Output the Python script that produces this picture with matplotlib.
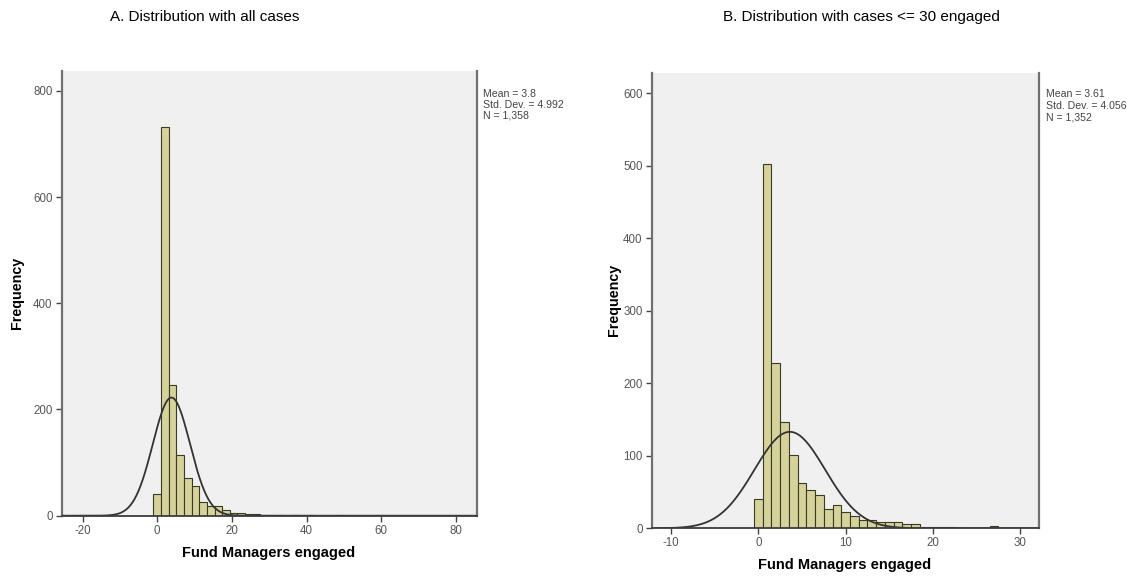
import numpy as np
import matplotlib
matplotlib.use("Agg")
import matplotlib.pyplot as plt

plt.rcParams['font.family'] = ['Liberation Sans', 'DejaVu Sans']
plt.rcParams['axes.unicode_minus'] = False

# ---- Panel A: all cases ----
a_title = "A. Distribution with all cases"
a_bin_start = -1.05
a_bin_width = 2.05
a_counts = [40, 732, 247, 115, 71, 55, 25, 19, 18, 11,
            6, 5, 3, 3, 2, 1, 1, 0, 1, 0,
            1, 0, 0, 0, 1, 0, 0, 0, 0, 1,
            0, 0, 0, 0, 0, 0, 0, 0, 0, 0, 0, 0]
a_mean, a_sd, a_n = 3.8, 4.992, 1358
a_xticks = [-20, 0, 20, 40, 60, 80]
a_yticks = [0, 200, 400, 600, 800]
a_stats = "Mean = 3.8\nStd. Dev. = 4.992\nN = 1,358"

# ---- Panel B: cases <= 30 engaged ----
b_title = "B. Distribution with cases <= 30 engaged"
b_bin_start = -0.5
b_bin_width = 1.0
b_counts = [41, 502, 228, 146, 101, 63, 53, 46, 26, 32,
            23, 17, 12, 11, 9, 8, 8, 6, 6, 2,
            2, 2, 2, 1, 1, 0, 0, 3, 0, 1]
b_mean, b_sd, b_n = 3.61, 4.056, 1352
b_xticks = [-10, 0, 10, 20, 30]
b_yticks = [0, 100, 200, 300, 400, 500, 600]
b_stats = "Mean = 3.61\nStd. Dev. = 4.056\nN = 1,352"

x_label = "Fund Managers engaged"
y_label = "Frequency"

BAR_FACE = "#d5d29b"
BAR_EDGE = "#3b3b22"
PANEL_BG = "#f0f0f0"
CURVE = "#333333"
TICK_COL = "#555555"

W, H = 1133, 577
fig = plt.figure(figsize=(W / 100, H / 100), dpi=100)


def px_axes(x0, x1, ytop, ybot):
    return fig.add_axes([x0 / W, 1 - ybot / H, (x1 - x0) / W, (ybot - ytop) / H])


def draw_panel(ax, counts, start, bw, mean, sd, n, xlim, ylim, xticks, yticks):
    counts = np.asarray(counts, dtype=float)
    edges = start + bw * np.arange(len(counts) + 1)
    keep = counts > 0
    ax.set_facecolor(PANEL_BG)
    ax.bar(edges[:-1][keep], counts[keep], width=bw, align="edge",
           color=BAR_FACE, edgecolor=BAR_EDGE, linewidth=0.8, zorder=2)
    xs = np.linspace(xlim[0] + 0.3, xlim[1] - 0.3, 600)
    ys = n * bw * np.exp(-0.5 * ((xs - mean) / sd) ** 2) / (sd * np.sqrt(2 * np.pi))
    ax.plot(xs, ys, color=CURVE, linewidth=1.3, zorder=3)
    ax.set_xlim(*xlim)
    ax.set_ylim(*ylim)
    ax.set_xticks(xticks)
    ax.set_yticks(yticks)
    ax.tick_params(axis="both", direction="out", length=4, width=1,
                   color="#444444", labelsize=8.3, labelcolor=TICK_COL, pad=2.5)
    ax.spines["top"].set_visible(False)
    for s in ("left", "right"):
        ax.spines[s].set_color("#707070")
        ax.spines[s].set_linewidth(1.6)
    ax.spines["bottom"].set_color("#3c3c3c")
    ax.spines["bottom"].set_linewidth(1.3)
    ax.spines["bottom"].set_zorder(4)


ax_a = px_axes(61.7, 476.7, 70.7, 515.7)
draw_panel(ax_a, a_counts, a_bin_start, a_bin_width, a_mean, a_sd, a_n,
           (-25.6, 85.6), (0, 838), a_xticks, a_yticks)

ax_b = px_axes(651.7, 1039.0, 72.7, 528.3)
draw_panel(ax_b, b_counts, b_bin_start, b_bin_width, b_mean, b_sd, b_n,
           (-12.21, 32.15), (0, 628), b_xticks, b_yticks)

# Titles
fig.text(205 / W, 1 - 17 / H, a_title, ha="center", va="center", fontsize=11)
fig.text(861 / W, 1 - 17 / H, b_title, ha="center", va="center", fontsize=11)

# Axis labels
fig.text(17 / W, 1 - 293 / H, y_label, rotation=90, ha="center", va="center",
         fontsize=10.3, fontweight="bold")
fig.text(614 / W, 1 - 300 / H, y_label, rotation=90, ha="center", va="center",
         fontsize=10.3, fontweight="bold")
fig.text(269 / W, 1 - 553 / H, x_label, ha="center", va="center",
         fontsize=10.5, fontweight="bold")
fig.text(845 / W, 1 - 565 / H, x_label, ha="center", va="center",
         fontsize=10.5, fontweight="bold")

# Summary statistics beside each panel
fig.text(483 / W, 1 - 89 / H, a_stats, ha="left", va="top", fontsize=7.6,
         color="#444444", linespacing=1.12)
fig.text(1046 / W, 1 - 89 / H, b_stats, ha="left", va="top", fontsize=7.6,
         color="#444444", linespacing=1.2)

fig.savefig("out.png", dpi=100, facecolor="white")
